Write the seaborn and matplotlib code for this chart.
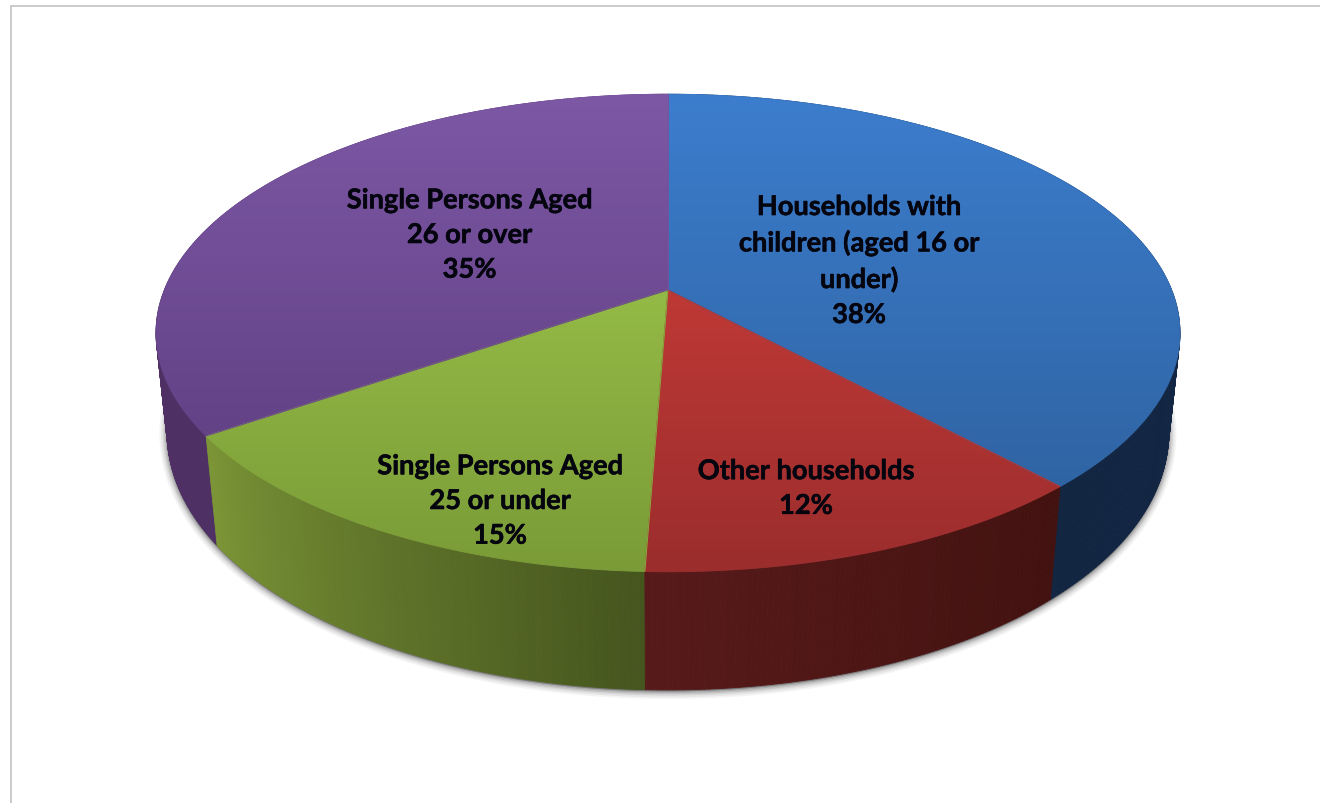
import numpy as np
import matplotlib
matplotlib.use("Agg")
import matplotlib.pyplot as plt
import matplotlib.patheffects as pe
from matplotlib.collections import LineCollection, PolyCollection
from matplotlib.patches import Polygon
import seaborn as sns

# Household shares, clockwise from twelve o'clock
categories = [
    "Households with\nchildren (aged 16 or\nunder)",
    "Other households",
    "Single Persons Aged\n25 or under",
    "Single Persons Aged\n26 or over",
]
shares = [38.2, 12.4, 14.8, 34.6]

# Lit top surface: colour at the far edge and at the near edge of the disc
face_far = ["#3c7dcd", "#d7413c", "#a6cf50", "#7d58a5"]
face_near = ["#2d5f9b", "#9b2d2d", "#7a9b37", "#59397a"]
# Rim colours at the start and end of each slice's arc
rim_start = ["#15294a", "#421210", "#45551e", "#4e3064"]
rim_end = ["#122642", "#571a1a", "#7b9536", "#513266"]

# Text placement, pixel centres of each label block
label_x = [859, 806, 500, 469.5]
label_y = [262, 489.5, 502, 236]

# Perspective view of the disc
CX, CY = 668.0, 291.0
SCALE_X, SCALE_Y, TILT = 503.6, 231.0, 0.18
TOP_Y, NEAR_Y = 95.0, 573.0
# The lower rim shrinks toward a distant vanishing point, more so nearer the viewer
VANISH = np.array([665.0, 5000.0])
RIM_SCALE_MID, RIM_SCALE_SLOPE = 0.9795, 0.0062


def rim_top(theta_deg):
    t = np.radians(theta_deg)
    u, v = np.sin(t), np.cos(t)
    w = 1 + TILT * v
    return np.column_stack([CX + SCALE_X * u / w, CY - SCALE_Y * v / w])


def rim_bottom(theta_deg):
    scale = RIM_SCALE_MID + RIM_SCALE_SLOPE * np.cos(np.radians(theta_deg))
    return VANISH + scale[:, None] * (rim_top(theta_deg) - VANISH)


sns.set_theme(style="white")
plt.rcParams["font.family"] = ["Lato", "DejaVu Sans"]

fig = plt.figure(figsize=(13.2, 8.04), dpi=100, facecolor="white")
ax = fig.add_axes([0, 0, 1, 1])
ax.set_axis_off()

bounds = np.concatenate([[0], np.cumsum(shares)]) * 3.6

# Soft drop shadow beneath the rim
full_circle = np.linspace(0, 360, 361)
shadow_outline = rim_bottom(full_circle) + np.array([0, 1.5])
for width, alpha in zip([11, 8.5, 6, 4, 2], [0.05, 0.07, 0.09, 0.12, 0.16]):
    ax.add_patch(Polygon(shadow_outline, closed=True, facecolor="#333333",
                         edgecolor="#333333", lw=width, alpha=alpha,
                         joinstyle="round", zorder=1))

# Rim: narrow bands give the horizontal shading, back slices painted first
for i in [3, 0, 2, 1]:
    theta = np.arange(bounds[i], bounds[i + 1] + 0.25, 0.5)
    theta[-1] = bounds[i + 1]
    top, bottom = rim_top(theta), rim_bottom(theta)
    quads = [np.array([top[k], top[k + 1], bottom[k + 1], bottom[k]])
             for k in range(len(theta) - 1)]
    band_colours = sns.blend_palette([rim_start[i], rim_end[i]], n_colors=len(quads))
    ax.add_collection(PolyCollection(quads, facecolors=band_colours,
                                     edgecolors=band_colours, linewidths=0.6, zorder=2))

# Top surface: vertical gradient clipped to every slice
for i in range(len(shares)):
    theta = np.arange(bounds[i], bounds[i + 1] + 0.25, 0.5)
    theta[-1] = bounds[i + 1]
    outline = np.vstack([[CX, CY], rim_top(theta), [CX, CY]])
    ramp = np.array(sns.blend_palette([face_far[i], face_near[i]], n_colors=256))[:, None, :]
    image = ax.imshow(ramp, extent=(140, 1200, NEAR_Y, TOP_Y), aspect="auto",
                      interpolation="bilinear", zorder=3)
    image.set_clip_path(Polygon(outline, closed=True, transform=ax.transData))
    # Stroke the outline in the local gradient colour to smooth the clipped edge
    segments = np.stack([outline[:-1], outline[1:]], axis=1)
    pos = (segments[:, :, 1].mean(axis=1) - TOP_Y) / (NEAR_Y - TOP_Y)
    index = np.clip((pos * 255).astype(int), 0, 255)
    ax.add_collection(LineCollection(segments, colors=ramp[index, 0, :],
                                     linewidths=0.7, zorder=3.5))

# Slice labels with the rounded share
for name, value, x, y in zip(categories, shares, label_x, label_y):
    ax.text(x, y, f"{name}\n{value:.0f}%", ha="center", va="center", color="#05050f",
            fontsize=19.6, fontweight="bold", linespacing=1.535, zorder=5,
            path_effects=[pe.withStroke(linewidth=0.4, foreground="#05050f")])

# Thin chart-area frame running off the right and bottom of the canvas
ax.plot([10.5, 10.5, 1320], [804, 6.5, 6.5], color="#bdbdbd", lw=1.1, zorder=6,
        solid_joinstyle="miter")

ax.set_xlim(0, 1320)
ax.set_ylim(804, 0)

fig.savefig("out.png", dpi=100, facecolor="white")
